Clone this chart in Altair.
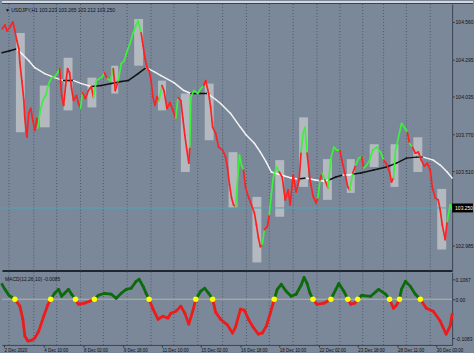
import json
import altair as alt
import pandas as pd

# ---------------- data ----------------
# H1 bar index (hours, ~1 bar per pixel column)
price_x = [0,3,5,8,11,13,15,17,18,20,
           22,23,25,27,29,31,33,35,36,38,
           41,44,47,50,53,56,58,60,62,64,
           66,68,70,72,75,77,79,81,84,87,
           90,92,95,98,101,103,106,109,112,114,
           117,120,123,126,129,132,135,137,140,142,
           144,146,148,150,152,154,156,158,161,163,
           166,169,172,175,177,180,182,184,186,188,
           189,190,193,197,200,203,205,208,210,212,
           215,218,222,225,227,229,231,233,235,237,
           239,241,243,245,248,251,254,256,258,260,
           262,264,267,269,271,273,276,279,282,285,
           288,290,293,296,299,301,303,305,307,310,
           313,316,318,320,322,325,328,331,334,337,
           340,342,345,348,350,353,356,359,362,364,
           367,370,373,377,381,384,387,390,392,394,
           396,399,402,405,408,410,413,416,419,422,
           425,428,431,433,436,439,441,443,446,448,
           451,453]
price_p = [104.511,104.539,104.497,104.525,104.560,104.497,104.427,104.371,104.273,104.147,
           104.007,103.881,103.748,103.923,103.951,103.867,103.797,103.881,103.811,103.916,
           104.007,104.042,104.126,104.168,104.175,104.203,104.231,104.042,103.972,104.112,
           104.231,104.203,104.091,104.007,104.042,103.986,103.951,104.063,104.021,104.077,
           104.105,104.028,104.147,104.161,104.175,104.203,104.161,104.147,104.231,104.077,
           104.147,104.266,104.287,104.357,104.413,104.483,104.539,104.567,104.483,104.392,
           104.301,104.238,104.217,104.147,104.028,103.972,104.035,104.007,104.112,104.077,
           103.951,103.993,103.937,103.881,104.028,104.007,103.881,103.762,103.657,103.566,
           103.678,104.028,104.077,104.056,104.091,104.112,104.147,104.056,103.958,103.818,
           103.776,103.678,103.657,103.608,103.531,103.412,103.321,103.272,103.258,103.447,
           103.622,103.552,103.517,103.398,103.328,103.272,103.216,103.132,103.041,102.978,
           102.992,103.097,103.118,103.202,103.342,103.461,103.538,103.503,103.468,103.307,
           103.377,103.272,103.482,103.363,103.447,103.643,103.776,103.818,103.636,103.447,
           103.335,103.286,103.321,103.447,103.496,103.447,103.391,103.601,103.678,103.657,
           103.657,103.587,103.496,103.398,103.377,103.496,103.552,103.601,103.608,103.531,
           103.552,103.587,103.657,103.678,103.643,103.587,103.559,103.503,103.433,103.461,
           103.657,103.748,103.846,103.818,103.783,103.706,103.678,103.636,103.643,103.587,
           103.545,103.566,103.517,103.398,103.321,103.307,103.237,103.132,103.027,103.153,
           103.272,103.237]
# trend colour of each stretch (R = red, G = green), as run lengths
price_color_runs = [("R",18),("G",8),("R",10),("G",1),("R",4),("G",4),("R",1),("G",2),("R",2),("G",8),
                    ("R",9),("G",1),("R",5),("G",1),("R",6),("G",5),("R",13),("G",4),("R",8),("G",1),
                    ("R",2),("G",4),("R",8),("G",3),("R",4),("G",1),("R",1),("G",1),("R",1),("G",4),
                    ("R",4),("G",1),("R",1),("G",2),("R",1),("G",6),("R",4),("G",5),("R",1),("G",1),
                    ("R",13),("G",3)]

ma_x = [0,8,15,20,27,33,43,53,62,68,
        72,80,90,100,110,120,127,137,145,153,
        160,173,183,190,200,207,215,220,230,240,
        246,254,260,266,271,281,291,298,306,315,
        323,329,336,343,349,354,361,374,387,397,
        407,417,424,434,441,448,453]
ma_p = [104.343,104.357,104.371,104.336,104.287,104.238,104.196,104.168,104.147,104.147,
        104.147,104.126,104.105,104.112,104.126,104.140,104.147,104.196,104.238,104.210,
        104.182,104.133,104.077,104.056,104.056,104.056,104.014,103.986,103.916,103.818,
        103.762,103.706,103.643,103.573,103.503,103.482,103.461,103.454,103.461,103.447,
        103.440,103.447,103.468,103.482,103.482,103.489,103.496,103.517,103.538,103.566,
        103.601,103.608,103.608,103.587,103.552,103.503,103.461]
ma_color = "BBWWWWWWBB" "WWBBBBBBWW" "WWWBBWWWWW" "WWWWWWWBWW" "WBBWWBBBBB" "BBWWWWW"

box_x0 = [14,38,62,86,110,133,157,180,204,228,252,275,299,323,347,370,391,414,438]
box_x1 = [23,48,71,95,117,142,165,189,213,237,261,284,308,332,355,379,399,423,447]
box_hi = [104.483,104.112,104.308,104.168,104.252,104.581,104.147,104.056,104.126,103.643,
          103.328,103.587,103.888,103.594,103.594,103.699,103.699,103.748,103.384]
box_lo = [103.783,103.818,103.937,103.958,104.056,104.252,103.937,103.503,103.727,103.251,
          102.866,103.188,103.398,103.307,103.356,103.538,103.398,103.503,102.957]

current_price = 103.250

macd_x = [0,3,7,13,18,21,23,26,30,33,
          37,42,46,49,53,57,60,63,67,70,
          74,77,83,88,93,97,103,110,115,120,
          125,130,135,138,142,145,148,152,157,162,
          167,170,175,180,184,188,192,195,200,204,
          208,212,215,220,227,232,235,240,244,248,
          252,258,262,266,270,274,277,281,286,291,
          296,301,304,307,310,313,317,324,331,336,
          339,344,348,351,355,358,362,371,379,386,
          390,394,397,400,402,406,411,416,421,427,
          434,441,447,451,453]
macd_v = [0.080,0.053,0.021,0.0,-0.037,-0.107,-0.197,-0.224,-0.219,-0.208,
          -0.171,-0.091,-0.032,0.0,0.032,0.053,0.016,0.032,0.053,0.027,
          0.0,-0.027,-0.021,-0.011,0.0,0.021,0.032,0.027,0.005,0.032,
          0.053,0.059,0.096,0.107,0.069,0.032,0.0,-0.053,-0.107,-0.091,
          -0.101,-0.075,-0.064,-0.037,-0.075,-0.133,-0.064,0.0,0.043,0.059,
          0.032,0.0,-0.069,-0.107,-0.139,-0.181,-0.149,-0.053,-0.059,-0.107,
          -0.144,-0.187,-0.181,-0.144,-0.075,0.0,0.053,0.080,0.043,0.016,
          0.027,0.075,0.117,0.085,0.032,0.0,-0.027,-0.021,0.0,0.053,
          0.085,0.043,0.0,-0.027,-0.021,0.0,0.021,0.016,0.053,0.027,
          0.0,-0.048,-0.032,0.0,0.053,0.096,0.069,0.027,0.0,-0.048,
          -0.064,-0.117,-0.187,-0.144,-0.080]

grid_x = [7,32,55,79,102,126,150,173,197,222,246,269,293,317,340,363,384,407,431]

xlab_pos = [2,42,82,122,161,200,240,279,319,358,398,437]
xlab_txt = ["2 Dec 2020","4 Dec 10:00","8 Dec 02:00","9 Dec 18:00","11 Dec 10:00",
            "15 Dec 02:00","16 Dec 18:00","18 Dec 10:00","22 Dec 02:00","23 Dec 18:00",
            "28 Dec 11:00","30 Dec 03:00"]
price_ticks = [104.560,104.295,104.035,103.770,103.510,102.985]

title_txt = "\u25BC USDJPY,H1  103.223 103.265 103.212 103.250"
macd_title = "MACD(12,26,10) -0.0085"

# ---------------- styling ----------------
BG = "#7b8899"
GRID = "#4f5968"
DARK = "#1d2631"
PALETTE = {"R": "#ff2121", "G": "#3cf03c", "W": "#f4f4f4", "B": "#111111",
           "MG": "#0b6b0b", "MR": "#ee1b1b"}
FONT = "Liberation Sans"
W = 453
H1 = 268
H2 = 73

xs = alt.Scale(domain=[0, W], nice=False, zero=False)
ps = alt.Scale(domain=[102.810, 104.686], nice=False, zero=False)
ms = alt.Scale(domain=[-0.245, 0.144], nice=False, zero=False)


def seg_df(xv, yv, cv):
    n = len(xv) - 1
    return pd.DataFrame({"x": xv[:-1], "x2": xv[1:], "y": yv[:-1], "y2": yv[1:],
                         "c": [PALETTE[k] for k in list(cv)[:n]]})


price_colors = []
for c, k in price_color_runs:
    price_colors += [c] * k
while len(price_colors) < len(price_x):
    price_colors.append(price_colors[-1])

price_seg = seg_df(price_x, price_p, price_colors)
ma_seg = seg_df(ma_x, ma_p, (ma_color + "W" * 10))
macd_seg = seg_df(macd_x, macd_v,
                  ["MG" if (a + b) > 0 else "MR" for a, b in zip(macd_v[:-1], macd_v[1:])])
cross_df = pd.DataFrame({"x": [x for x, v in zip(macd_x, macd_v) if v == 0],
                         "y": [0.0] * sum(1 for v in macd_v if v == 0)})
grid_df = pd.DataFrame({"gx": grid_x})
box_df = pd.DataFrame({"x0": box_x0, "x1": box_x1, "hi": box_hi, "lo": box_lo})
px_step = (ps.domain[1] - ps.domain[0]) / H1
cur_df = pd.DataFrame({"v": [current_price], "lo": [current_price - 4.5 * px_step],
                       "hi": [current_price + 4.5 * px_step], "lbl": [f"{current_price:.3f}"]})

x_main_axis = alt.Axis(labels=False, ticks=False, grid=False, title=None,
                       domain=True, domainColor=DARK, domainWidth=2)
y_main_axis = alt.Axis(orient="right", values=price_ticks, format=".3f", grid=False, title=None,
                       labelFontSize=5, labelColor="#111111", labelPadding=1,
                       tickSize=2, tickColor="#2a3340", domainColor="#3a4452")

xa = alt.X("x:Q", scale=xs, axis=x_main_axis)

top_band = alt.Chart(cur_df).mark_rect(color="#d3d6da").encode(
    x=alt.value(0), x2=alt.value(W + 21), y=alt.value(-3), y2=alt.value(-1))
top_line = alt.Chart(cur_df).mark_rect(color="#3a4350").encode(
    x=alt.value(0), x2=alt.value(W + 21), y=alt.value(-1), y2=alt.value(0))
grid1 = alt.Chart(grid_df).mark_rule(color=GRID, strokeDash=[1, 2], strokeWidth=1).encode(
    x=alt.X("gx:Q", scale=xs, axis=x_main_axis))
boxes = alt.Chart(box_df).mark_rect(color="#d6d6d6", opacity=0.62).encode(
    x=alt.X("x0:Q", scale=xs, axis=x_main_axis), x2="x1:Q",
    y=alt.Y("hi:Q", scale=ps, axis=y_main_axis), y2="lo:Q")
cyan = alt.Chart(cur_df).mark_rule(color="#46a9ba", strokeWidth=1).encode(
    y=alt.Y("v:Q", scale=ps, axis=y_main_axis))
ma = alt.Chart(ma_seg).mark_rule(strokeWidth=1.5, strokeCap="round").encode(
    x=xa, x2="x2:Q", y=alt.Y("y:Q", scale=ps, axis=y_main_axis), y2="y2:Q",
    color=alt.Color("c:N", scale=None, legend=None))
price = alt.Chart(price_seg).mark_rule(strokeWidth=1.7, strokeCap="round").encode(
    x=xa, x2="x2:Q", y=alt.Y("y:Q", scale=ps, axis=y_main_axis), y2="y2:Q",
    color=alt.Color("c:N", scale=None, legend=None))
hl_rect = alt.Chart(cur_df).mark_rect(color="#000000").encode(
    x=alt.value(W), x2=alt.value(W + 21),
    y=alt.Y("hi:Q", scale=ps, axis=y_main_axis), y2="lo:Q")
hl_text = alt.Chart(cur_df).mark_text(align="left", baseline="middle", fontSize=5,
                                      color="white", font=FONT).encode(
    x=alt.value(W + 3), y=alt.Y("v:Q", scale=ps, axis=y_main_axis), text="lbl:N")
title = alt.Chart(cur_df).mark_text(align="left", baseline="middle", fontSize=5,
                                    color="#111111", font=FONT).encode(
    x=alt.value(3), y=alt.value(6), text=alt.value(title_txt))

main = alt.layer(grid1, boxes, cyan, ma, price, hl_rect, hl_text, title,
                 top_band, top_line).properties(width=W, height=H1)

label_expr = f"{json.dumps(xlab_txt)}[indexof({json.dumps(xlab_pos)}, datum.value)]"
x_macd_axis = alt.Axis(values=xlab_pos, labelExpr=label_expr, labelAlign="left", labelFontSize=4.5,
                       labelColor="#111111", labelPadding=1, tickSize=2, tickColor="#2a3340",
                       domainColor="#3a4452", grid=False, title=None, labelOverlap=False)
y_macd_axis = alt.Axis(orient="right", values=[0.1067, 0.0, -0.208],
                       labelExpr="datum.value < -0.1 ? '-0.1083' : (datum.value > 0.1 ? '0.1067' : '0.00')",
                       grid=False, title=None, labelFontSize=5, labelColor="#111111", labelPadding=1,
                       tickSize=2, tickColor="#2a3340", domainColor="#3a4452")
xm = alt.X("x:Q", scale=xs, axis=x_macd_axis)

grid2 = alt.Chart(grid_df).mark_rule(color=GRID, strokeDash=[1, 2], strokeWidth=1).encode(
    x=alt.X("gx:Q", scale=xs, axis=x_macd_axis))
zero = alt.Chart(cur_df).mark_rule(color="#b9b59c", strokeWidth=1).encode(
    y=alt.datum(0.0, scale=ms, axis=y_macd_axis))
macd = alt.Chart(macd_seg).mark_rule(strokeWidth=2.8, strokeCap="round").encode(
    x=xm, x2="x2:Q", y=alt.Y("y:Q", scale=ms, axis=y_macd_axis), y2="y2:Q",
    color=alt.Color("c:N", scale=None, legend=None))
dots = alt.Chart(cross_df).mark_circle(size=30, color="#ffff00", opacity=1).encode(
    x=xm, y=alt.Y("y:Q", scale=ms, axis=y_macd_axis))
mtitle = alt.Chart(cur_df).mark_text(align="left", baseline="middle", fontSize=5,
                                     color="#111111", font=FONT).encode(
    x=alt.value(3), y=alt.value(7), text=alt.value(macd_title))

lower = alt.layer(grid2, zero, macd, dots, mtitle).properties(width=W, height=H2)

chart = alt.vconcat(main, lower, spacing=0).configure(
    background=BG, padding={"left": 0, "top": 0, "right": 0, "bottom": 0}, font=FONT
).configure_view(stroke=None).configure_axis(labelFont=FONT)

chart.save("out.html", embed_options={"renderer": "svg", "actions": False})
